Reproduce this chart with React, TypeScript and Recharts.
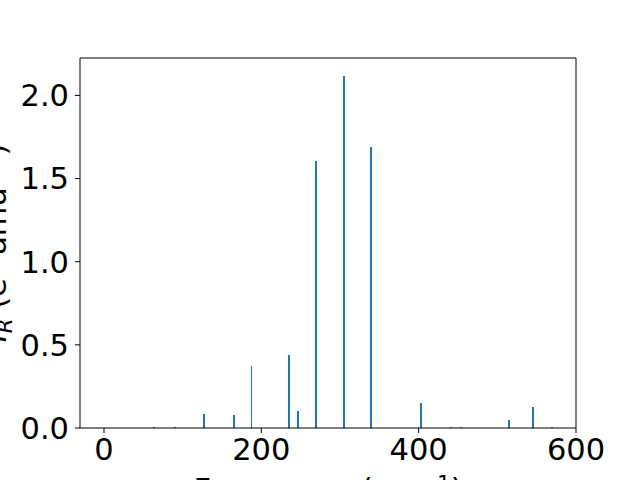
import React from "react";
import { ComposedChart, Bar, XAxis, YAxis, ReferenceLine } from "recharts";

// IR spectrum: frequency (cm^-1) vs intensity
const frequencies = [64, 91, 128, 166, 188, 236, 247, 270, 306, 340, 403, 442, 454, 515, 546, 570];
const intensities = [0.004, 0.006, 0.087, 0.081, 0.37, 0.441, 0.105, 1.607, 2.117, 1.69, 0.153, 0.005, 0.006, 0.051, 0.129, 0.004];
const xTicks = [0, 200, 400, 600];
const yTicks = [0, 0.5, 1.0, 1.5, 2.0];

const X_DOMAIN: [number, number] = [-30.5, 600];
const Y_DOMAIN: [number, number] = [0, 2.225];

const data = frequencies.map((f, i) => ({ freq: f, ir: intensities[i] }));

const FONT = "DejaVu Sans";
const tickStyle = { fill: "#000", fontSize: 30.5, fontFamily: FONT };

export default function App() {
  return (
    <div style={{ position: "absolute", left: 0, top: 0, width: 640, height: 480, background: "#fff" }}>
      <ComposedChart
        width={640}
        height={480}
        data={data}
        margin={{ top: 58, right: 64, bottom: 0, left: 0 }}
      >
        <XAxis
          dataKey="freq"
          type="number"
          domain={X_DOMAIN}
          ticks={xTicks}
          allowDataOverflow
          height={52}
          tickSize={5}
          tickMargin={5}
          tick={tickStyle}
          axisLine={{ stroke: "#000" }}
          tickLine={{ stroke: "#000" }}
        />
        <YAxis
          type="number"
          domain={Y_DOMAIN}
          ticks={yTicks}
          allowDataOverflow
          width={80}
          tickSize={5}
          tickMargin={6}
          tick={tickStyle}
          tickFormatter={(v: number) => v.toFixed(1)}
          axisLine={{ stroke: "#000" }}
          tickLine={{ stroke: "#000" }}
        />
        {/* top and right spines */}
        <ReferenceLine y={Y_DOMAIN[1]} stroke="#000" />
        <ReferenceLine x={X_DOMAIN[1]} stroke="#000" />
        <Bar
          dataKey="ir"
          fill="#1f77b4"
          barSize={1.9}
          shapeRendering="crispEdges"
          isAnimationActive={false}
        />
        <text
          x={328}
          y={500}
          textAnchor="middle"
          fontSize={30.5}
          fontFamily={FONT}
          fill="#000"
        >
          Frequency (cm
          <tspan fontSize={21.4} dy={-9}>−1</tspan>
          <tspan dy={9}>)</tspan>
        </text>
        <text
          transform="translate(6, 243) rotate(-90)"
          textAnchor="middle"
          fontSize={30.5}
          fontFamily={FONT}
          fill="#000"
        >
          <tspan fontStyle="italic">I</tspan>
          <tspan fontSize={21.4} fontStyle="italic" dy={6}>R</tspan>
          <tspan dy={-6}> (e</tspan>
          <tspan fontSize={21.4} dy={-9}>2</tspan>
          <tspan dy={9}> amu</tspan>
          <tspan fontSize={21.4} dy={-9}>−1</tspan>
          <tspan dy={9}>)</tspan>
        </text>
      </ComposedChart>
    </div>
  );
}
